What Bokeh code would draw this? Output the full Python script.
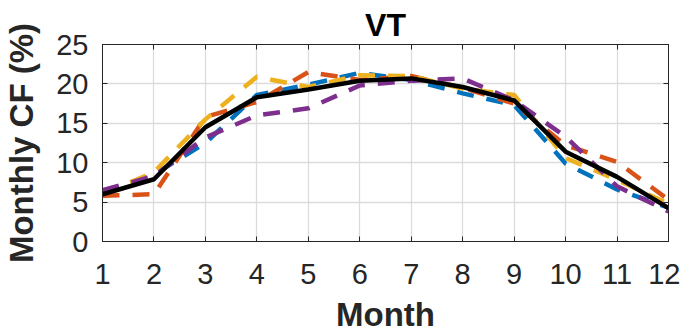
from bokeh.plotting import figure
from bokeh.models import LinearAxis, FixedTicker, Range1d
from bokeh.embed import file_html
from bokeh.resources import INLINE

months = [1, 2, 3, 4, 5, 6, 7, 8, 9, 10, 11, 12]
blue = [6.2, 8.5, 12.5, 18.6, 19.9, 21.4, 20.5, 18.8, 17.3, 9.9, 6.6, 4.3]
orange = [5.8, 6.0, 15.8, 17.7, 21.5, 20.5, 21.0, 19.5, 17.5, 12.2, 10.1, 5.3]
yellow = [6.0, 8.8, 15.5, 20.9, 19.6, 21.1, 21.0, 19.4, 18.6, 10.6, 7.8, 4.8]
purple = [6.5, 8.3, 13.2, 16.0, 16.9, 19.8, 20.4, 20.7, 17.9, 13.3, 7.0, 3.8]
mean = [6.0, 7.9, 14.5, 18.3, 19.3, 20.4, 20.7, 19.6, 17.9, 11.4, 8.2, 4.25]
x_ticks = months
y_ticks = [0, 5, 10, 15, 20, 25]

FONT = "Liberation Sans"
TXT = "#262626"

p = figure(width=680, height=335, output_backend="svg", toolbar_location=None,
           x_range=Range1d(1, 12), y_range=Range1d(0, 25),
           min_border_left=101, min_border_right=12, min_border_top=44, min_border_bottom=93,
           title="VT")
p.title.align = "center"
p.title.text_font = FONT
p.title.text_font_size = "32px"
p.title.text_font_style = "bold"
p.title.text_color = "#000000"
p.title.standoff = 4

p.outline_line_color = TXT
p.outline_line_width = 1
p.background_fill_color = "white"
p.border_fill_color = "white"

for ax in (p.xaxis[0], p.yaxis[0]):
    ax.major_label_text_font = FONT
    ax.major_label_text_font_size = "29px"
    ax.major_label_text_color = TXT
    ax.axis_label_text_font = FONT
    ax.axis_label_text_font_size = "33px"
    ax.axis_label_text_font_style = "bold"
    ax.axis_label_text_color = TXT
    ax.axis_line_color = TXT
    ax.major_tick_line_color = TXT
    ax.major_tick_in = 5
    ax.major_tick_out = 0
    ax.minor_tick_line_color = None

p.xaxis.ticker = FixedTicker(ticks=x_ticks)
p.yaxis.ticker = FixedTicker(ticks=y_ticks)
p.xaxis.axis_label = "Month"
p.yaxis.axis_label = "Monthly CF (%)"
p.xaxis.major_label_standoff = 22
p.yaxis.major_label_standoff = 14
p.xaxis.axis_label_standoff = 9
p.yaxis.axis_label_standoff = 13

ra = LinearAxis(ticker=FixedTicker(ticks=y_ticks), major_label_text_font_size="0px",
                major_label_text_color=None,
                major_tick_in=5, major_tick_out=0, minor_tick_line_color=None,
                axis_line_color=TXT, major_tick_line_color=TXT, major_label_standoff=0)
p.add_layout(ra, "right")
ta = LinearAxis(ticker=FixedTicker(ticks=x_ticks), major_label_text_font_size="0px",
                major_label_text_color=None,
                major_tick_in=5, major_tick_out=0, minor_tick_line_color=None,
                axis_line_color=TXT, major_tick_line_color=TXT, major_label_standoff=0)
p.add_layout(ta, "above")

p.xgrid.ticker = FixedTicker(ticks=x_ticks)
p.ygrid.ticker = FixedTicker(ticks=y_ticks)
for g in (p.xgrid[0], p.ygrid[0]):
    g.grid_line_color = "#dcdcdc"
    g.grid_line_width = 1.3

dash = "17 13"
p.line(months, blue, line_color="#0072BD", line_width=4.5, line_dash=dash)
p.line(months, orange, line_color="#D95319", line_width=4.5, line_dash=dash)
p.line(months, yellow, line_color="#EDB120", line_width=4.5, line_dash=dash)
p.line(months, purple, line_color="#7E2F8E", line_width=4.5, line_dash=dash)
p.line(months, mean, line_color="#000000", line_width=4.5)

open("out.html", "w").write(file_html(p, INLINE))
